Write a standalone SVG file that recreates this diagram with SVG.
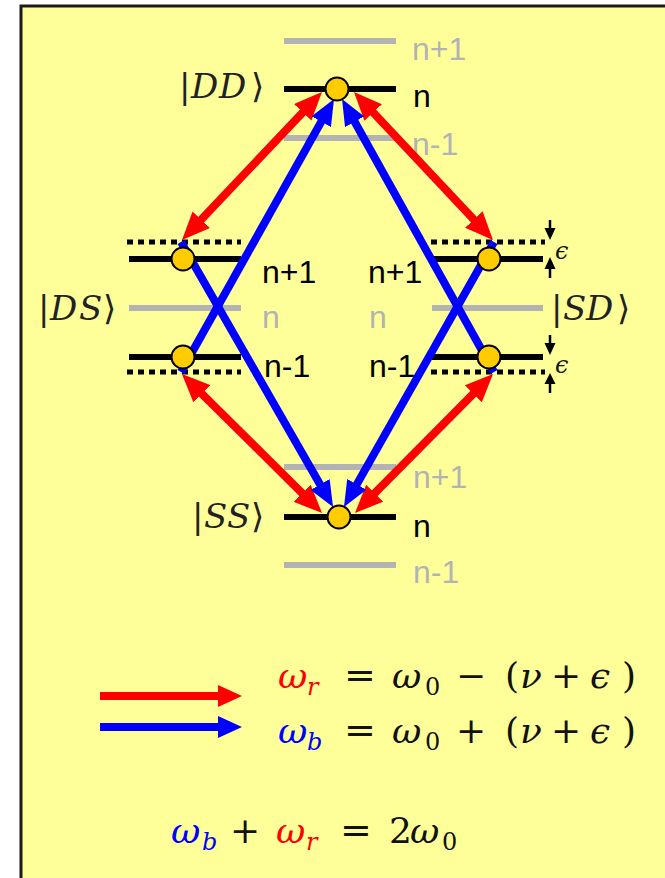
<svg xmlns="http://www.w3.org/2000/svg" width="665" height="878" viewBox="0 0 665 878">
<style>
.blk{stroke:#000;stroke-width:6;fill:none}
.gry{stroke:#b3b3b3;stroke-width:6;fill:none}
.dot{stroke:#000;stroke-width:5;stroke-dasharray:6 5;fill:none}
.lbl{font-family:"Liberation Sans",Arial,sans-serif;font-size:32px;fill:#000}
.lg{fill:#b3b3b3}
.ket{font-family:"DejaVu Serif","DejaVu Sans",serif;font-size:34px;fill:#222}
.it{font-style:italic}
.m{font-family:"DejaVu Serif","DejaVu Sans",serif;font-size:36px;fill:#111}
.op{font-size:36px}
.eq{font-size:38px}
.sub{font-size:24px}
.red{fill:#f00}
.blue{fill:#00f}
.ra{stroke:#f00;stroke-width:8;fill:none}
.ba{stroke:#00f;stroke-width:8;fill:none}
.atom{fill:#ffcc00;stroke:#000;stroke-width:2}
.eps{stroke:#000;stroke-width:2.5}
</style>
<defs>
<marker id="hr" viewBox="0 0 28 24" refX="2" refY="12" markerWidth="28" markerHeight="24" orient="auto-start-reverse" markerUnits="userSpaceOnUse"><path d="M0,0 L28,12 L0,24 z" fill="#f00"/></marker>
<marker id="hb" viewBox="0 0 26 22" refX="2" refY="11" markerWidth="26" markerHeight="22" orient="auto" markerUnits="userSpaceOnUse"><path d="M0,0 L26,11 L0,22 z" fill="#00f"/></marker>
</defs>
<rect x="21" y="6" width="700" height="900" fill="#ffff99" stroke="#1a1a1a" stroke-width="3"/>

<g id="DD">
<line class="gry" x1="284" y1="41" x2="396" y2="41"/>
<line class="blk" x1="284" y1="89" x2="396" y2="89"/>
<line class="gry" x1="284" y1="138" x2="396" y2="138"/>
<text class="lbl lg" x="412" y="60">n+1</text>
<text class="lbl" x="413" y="107">n</text>
<text class="lbl lg" x="412" y="155">n-1</text>
<text class="ket"><tspan x="179" y="98">|</tspan><tspan class="it" x="191" y="98">D</tspan><tspan class="it" x="219" y="98">D</tspan><tspan x="251" y="98">⟩</tspan></text>
</g>

<g id="DS">
<line class="dot" x1="127" y1="242" x2="241" y2="242"/>
<line class="blk" x1="129" y1="259" x2="241" y2="259"/>
<line class="gry" x1="129" y1="308" x2="241" y2="308"/>
<line class="blk" x1="129" y1="357" x2="241" y2="357"/>
<line class="dot" x1="127" y1="372" x2="241" y2="372"/>
<text class="lbl" x="262" y="283">n+1</text>
<text class="lbl lg" x="262" y="328">n</text>
<text class="lbl" x="264" y="377">n-1</text>
<text class="ket"><tspan x="38" y="320">|</tspan><tspan class="it" x="50" y="320">D</tspan><tspan class="it" x="79" y="320">S</tspan><tspan x="103" y="320">⟩</tspan></text>
</g>

<g id="SD">
<line class="dot" x1="431" y1="242" x2="545" y2="242"/>
<line class="blk" x1="432" y1="259" x2="543" y2="259"/>
<line class="gry" x1="432" y1="308" x2="543" y2="308"/>
<line class="blk" x1="432" y1="357" x2="543" y2="357"/>
<line class="dot" x1="431" y1="372" x2="545" y2="372"/>
<text class="lbl" x="368" y="283">n+1</text>
<text class="lbl lg" x="369" y="328">n</text>
<text class="lbl" x="369" y="377">n-1</text>
<text class="ket"><tspan x="551" y="320">|</tspan><tspan class="it" x="563" y="320">S</tspan><tspan class="it" x="586" y="320">D</tspan><tspan x="617" y="320">⟩</tspan></text>
<line class="eps" x1="550" y1="220" x2="550" y2="230"/>
<polygon points="544.5,228 555.5,228 550,240"/>
<line class="eps" x1="550" y1="268" x2="550" y2="278"/>
<polygon points="544.5,269 555.5,269 550,257"/>
<text class="m it" x="555" y="259" style="font-size:24px">ϵ</text>
<line class="eps" x1="550" y1="335" x2="550" y2="344"/>
<polygon points="544.5,343 555.5,343 550,355"/>
<line class="eps" x1="550" y1="383" x2="550" y2="393"/>
<polygon points="544.5,384 555.5,384 550,373"/>
<text class="m it" x="555" y="373" style="font-size:24px">ϵ</text>
</g>

<g id="SS">
<line class="gry" x1="284" y1="467" x2="396" y2="467"/>
<line class="blk" x1="284" y1="517" x2="396" y2="517"/>
<line class="gry" x1="284" y1="565" x2="396" y2="565"/>
<text class="lbl lg" x="413" y="488">n+1</text>
<text class="lbl" x="413" y="537">n</text>
<text class="lbl lg" x="413" y="583">n-1</text>
<text class="ket"><tspan x="192" y="528">|</tspan><tspan class="it" x="204" y="528">S</tspan><tspan class="it" x="227" y="528">S</tspan><tspan x="251" y="528">⟩</tspan></text>
</g>

<g id="connectors">
<line class="ra" x1="199.9" y1="221.1" x2="304.1" y2="110.9" marker-start="url(#hr)" marker-end="url(#hr)"/>
<line class="ra" x1="475.2" y1="221.0" x2="371.8" y2="111.0" marker-start="url(#hr)" marker-end="url(#hr)"/>
<line class="ra" x1="200.4" y1="392.3" x2="303.6" y2="494.7" marker-start="url(#hr)" marker-end="url(#hr)"/>
<line class="ra" x1="474.7" y1="392.4" x2="373.3" y2="494.6" marker-start="url(#hr)" marker-end="url(#hr)"/>
<line class="ba" x1="181" y1="242" x2="321.1" y2="486.2" marker-end="url(#hb)"/>
<line class="ba" x1="181" y1="372" x2="322.3" y2="119.9" marker-end="url(#hb)"/>
<line class="ba" x1="494" y1="242" x2="355.8" y2="486.1" marker-end="url(#hb)"/>
<line class="ba" x1="494" y1="372" x2="353.7" y2="120.0" marker-end="url(#hb)"/>
</g>

<g id="atoms">
<circle class="atom" cx="337" cy="89" r="11.5"/>
<circle class="atom" cx="183" cy="259" r="11.5"/>
<circle class="atom" cx="183" cy="357" r="11.5"/>
<circle class="atom" cx="489" cy="259" r="11.5"/>
<circle class="atom" cx="489" cy="357" r="11.5"/>
<circle class="atom" cx="339" cy="517" r="11.5"/>
</g>

<g id="legend">
<line stroke="#f00" stroke-width="8" x1="100" y1="696" x2="220" y2="696"/>
<polygon fill="#f00" points="218,685 242,696 218,707"/>
<line stroke="#00f" stroke-width="8" x1="100" y1="727" x2="220" y2="727"/>
<polygon fill="#00f" points="218,716 242,727 218,738"/>
<text class="m"><tspan class="it red" x="278" y="688">ω</tspan><tspan class="it red sub" x="307" y="695">r</tspan><tspan class="eq" x="344" y="688">=</tspan><tspan class="it" x="392" y="688">ω</tspan><tspan class="sub" x="425" y="695">0</tspan><tspan class="op" x="456" y="688">−</tspan><tspan x="505" y="688">(</tspan><tspan class="it" x="520" y="688">ν</tspan><tspan class="op" x="551" y="688">+</tspan><tspan class="it" x="590" y="688">ϵ</tspan><tspan x="622" y="688">)</tspan></text>
<text class="m"><tspan class="it blue" x="278" y="743">ω</tspan><tspan class="it blue sub" x="307" y="750">b</tspan><tspan class="eq" x="344" y="743">=</tspan><tspan class="it" x="392" y="743">ω</tspan><tspan class="sub" x="425" y="750">0</tspan><tspan class="op" x="456" y="743">+</tspan><tspan x="505" y="743">(</tspan><tspan class="it" x="520" y="743">ν</tspan><tspan class="op" x="551" y="743">+</tspan><tspan class="it" x="590" y="743">ϵ</tspan><tspan x="622" y="743">)</tspan></text>
</g>

<g id="sum">
<text class="m"><tspan class="it blue" x="171" y="843">ω</tspan><tspan class="it blue sub" x="202" y="850">b</tspan><tspan class="op" x="230" y="843">+</tspan><tspan class="it red" x="276" y="843">ω</tspan><tspan class="it red sub" x="306" y="850">r</tspan><tspan class="eq" x="340" y="843">=</tspan><tspan x="389" y="843">2</tspan><tspan class="it" x="410" y="843">ω</tspan><tspan class="sub" x="442" y="850">0</tspan></text>
</g>
</svg>
